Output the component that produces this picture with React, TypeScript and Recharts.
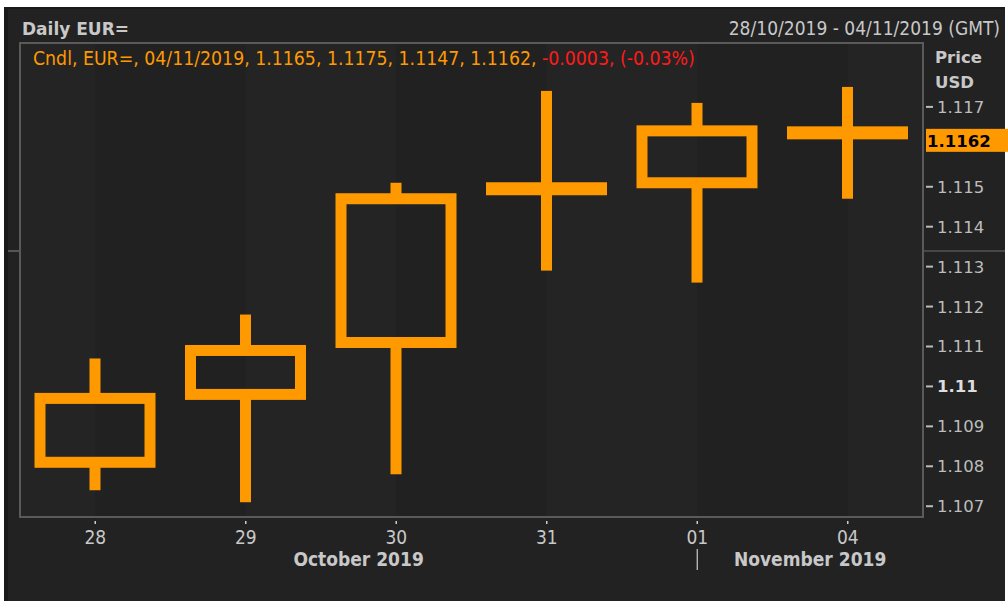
import React from 'react';
import { ComposedChart, Bar, XAxis, YAxis, ReferenceLine } from 'recharts';

// EUR= daily candles, 28/10/2019 - 04/11/2019
const days = ['28', '29', '30', '31', '01', '04'];
const opens = [1.1081, 1.1098, 1.1111, 1.1149, 1.1151, 1.1165];
const highs = [1.1107, 1.1118, 1.1151, 1.1174, 1.1171, 1.1175];
const lows = [1.1074, 1.1071, 1.1078, 1.1129, 1.1126, 1.1147];
const closes = [1.1097, 1.1109, 1.1147, 1.115, 1.1164, 1.1162];
const priceTicks = [1.107, 1.108, 1.109, 1.11, 1.111, 1.112, 1.113, 1.114, 1.115, 1.116, 1.117];
const months = [
  { start: 0, label: 'October 2019' },
  { start: 4, label: 'November 2019' },
];
const lastDate = '04/11/2019';
const rangeText = '28/10/2019 - 04/11/2019 (GMT)';

const data = days.map((d, i) => ({
  day: d,
  open: opens[i],
  high: highs[i],
  low: lows[i],
  close: closes[i],
  range: [lows[i], highs[i]],
}));

const W = 1008;
const H = 601;
const PLOT_LEFT = 20;
const PLOT_RIGHT = 923;
const PLOT_TOP = 43;
const PLOT_BOTTOM = 517;
const DOMAIN: [number, number] = [1.10673, 1.1186];
const BAND = (PLOT_RIGHT - PLOT_LEFT) / days.length;
const LAST = closes[closes.length - 1];

const ORANGE = '#ff9900';
const TEXT = '#c8c8c8';
const NARROW = "'DejaVu Sans Condensed', 'Liberation Sans Narrow', sans-serif";
const WIDE = "'DejaVu Sans', Verdana, sans-serif";
const STROKE = 11;

const Candle = (props: any) => {
  const { x, y, width, height, index, payload } = props;
  const { open, high, low, close } = payload;
  const k = height / (high - low);
  const yOf = (v: number) => y + (high - v) * k;
  const cx = x + width / 2;
  const top = yOf(DOMAIN[1]);
  const bottom = yOf(DOMAIN[0]);
  const stripeEnd = Math.min(cx + BAND, PLOT_RIGHT);
  const yHi = yOf(Math.max(open, close));
  const yLo = yOf(Math.min(open, close));
  const doji = yLo - yHi < 14;
  return (
    <g>
      {index === 0 && (
        <rect x={PLOT_LEFT} y={top} width={cx - PLOT_LEFT} height={bottom - top} fill="#242424" />
      )}
      <rect x={cx} y={top} width={stripeEnd - cx} height={bottom - top} fill={index % 2 === 0 ? '#212121' : '#242424'} />
      {doji ? (
        <g>
          <rect x={cx - STROKE / 2} y={yOf(high)} width={STROKE} height={yOf(low) - yOf(high)} fill={ORANGE} />
          <rect
            x={x - STROKE / 2}
            y={(yHi + yLo) / 2 - Math.max(13, yLo - yHi) / 2}
            width={width + STROKE}
            height={Math.max(13, yLo - yHi)}
            fill={ORANGE}
          />
        </g>
      ) : (
        <g>
          <rect x={cx - STROKE / 2} y={yOf(high)} width={STROKE} height={yHi - yOf(high)} fill={ORANGE} />
          <rect x={cx - STROKE / 2} y={yLo} width={STROKE} height={yOf(low) - yLo} fill={ORANGE} />
          <rect x={x} y={yHi} width={width} height={yLo - yHi} fill="none" stroke={ORANGE} strokeWidth={STROKE} />
        </g>
      )}
    </g>
  );
};

const PriceTick = (props: any) => {
  const { x, y, payload } = props;
  const v = payload.value as number;
  const bold = Math.abs(v - 1.11) < 1e-9;
  // the last-price tag covers the tick next to it
  if (Math.abs(v - LAST) < 0.0004) return <g />;
  return (
    <g>
      <line x1={x + 3} x2={x + 10} y1={y} y2={y} stroke="#bbb" strokeWidth={2} />
      <text x={x + 14} y={y + 6} fill={bold ? '#dddddd' : '#bdbdbd'} fontSize={16.5} fontFamily={WIDE} fontWeight={bold ? 'bold' : 'normal'}>
        {String(Number(v.toFixed(3)))}
      </text>
    </g>
  );
};

const DayTick = (props: any) => {
  const { x, y, payload, index } = props;
  const month = months.find((m) => m.start === index);
  let extra = null;
  if (month) {
    const mi = months.indexOf(month);
    const from = mi === 0 ? PLOT_LEFT : x;
    const next = months[mi + 1];
    const to = next ? x + (next.start - index) * BAND : PLOT_RIGHT;
    extra = (
      <g>
        {mi > 0 && <line x1={x} x2={x} y1={y + 32} y2={y + 53} stroke="#cccccc" strokeWidth={1.2} />}
        <text x={(from + to) / 2} y={y + 49} textAnchor="middle" fill={TEXT} fontSize={19} fontFamily={NARROW} fontWeight="bold">
          {month.label}
        </text>
      </g>
    );
  }
  return (
    <g>
      <line x1={x} x2={x} y1={y + 4} y2={y + 7} stroke="#cccccc" strokeWidth={1.5} />
      <text x={x} y={y + 27} textAnchor="middle" fill={TEXT} fontSize={19} fontFamily={NARROW}>
        {payload.value}
      </text>
      {extra}
    </g>
  );
};

const PriceTag = (props: any) => {
  const vb = props.viewBox || {};
  const y = vb.y;
  const x0 = vb.x + vb.width + 3;
  return (
    <g>
      <rect x={x0} y={y - 10} width={W - x0} height={23} fill={ORANGE} />
      <text x={x0 + 1} y={y + 8} fill="#000" fontSize={16.5} fontWeight="bold" fontFamily={WIDE}>
        {LAST.toFixed(4)}
      </text>
    </g>
  );
};

const App: React.FC = () => {
  const n = days.length - 1;
  const change = closes[n] - opens[n];
  const pct = (change / opens[n]) * 100;
  return (
    <div style={{ position: 'absolute', left: 0, top: 0, width: W, height: H, background: '#fff', overflow: 'hidden' }}>
      <div style={{ position: 'absolute', left: 4, top: 7, width: 1001, height: H - 7, background: '#1a1a1a' }} />
      <div style={{ position: 'absolute', left: 8, top: 9, width: 997, height: H - 9, background: '#222222' }} />
      <div style={{ position: 'absolute', left: 0, top: 0 }}>
        <ComposedChart
          width={W}
          height={H}
          data={data}
          margin={{ top: PLOT_TOP, right: 0, bottom: H - PLOT_BOTTOM - 40, left: PLOT_LEFT }}
        >
          <XAxis dataKey="day" height={40} axisLine={false} tickLine={false} tickSize={0} tickMargin={0} tick={<DayTick />} interval={0} />
          <YAxis
            orientation="right"
            width={W - PLOT_RIGHT}
            domain={DOMAIN}
            ticks={priceTicks}
            axisLine={false}
            tickLine={false}
            tickSize={0}
            tickMargin={0}
            tick={<PriceTick />}
            allowDataOverflow
          />
          <Bar dataKey="range" barSize={110} shape={<Candle />} isAnimationActive={false} />
          <ReferenceLine y={LAST} stroke="none" label={PriceTag} />
        </ComposedChart>
      </div>
      <svg width={W} height={H} style={{ position: 'absolute', left: 0, top: 0, pointerEvents: 'none' }}>
        <rect x={PLOT_LEFT} y={PLOT_TOP} width={PLOT_RIGHT - PLOT_LEFT} height={PLOT_BOTTOM - PLOT_TOP} fill="none" stroke="#5a5a5a" strokeWidth={2} />
        <line x1={8} x2={PLOT_LEFT} y1={251} y2={251} stroke="#555" strokeWidth={2} />
        <line x1={PLOT_RIGHT} x2={1005} y1={251} y2={251} stroke="#555" strokeWidth={1.5} />
        <text x={22} y={35} fill={TEXT} fontSize={17} fontWeight="bold" fontFamily={WIDE}>Daily EUR=</text>
        <text x={1000} y={35} textAnchor="end" fill={TEXT} fontSize={19} fontFamily={NARROW}>{rangeText}</text>
        <text x={33} y={65} fill={ORANGE} fontSize={19.3} fontFamily={NARROW}>
          {`Cndl, EUR=, ${lastDate}, ${opens[n].toFixed(4)}, ${highs[n].toFixed(4)}, ${lows[n].toFixed(4)}, ${closes[n].toFixed(4)}, `}
          <tspan fill="#ff1a1a">{`${change.toFixed(4)}, (${pct.toFixed(2)}%)`}</tspan>
        </text>
        <text x={935} y={63} fill={TEXT} fontSize={16.5} fontWeight="bold" fontFamily={WIDE}>Price</text>
        <text x={935} y={88} fill={TEXT} fontSize={16.5} fontWeight="bold" fontFamily={WIDE}>USD</text>
      </svg>
    </div>
  );
};

export default App;
